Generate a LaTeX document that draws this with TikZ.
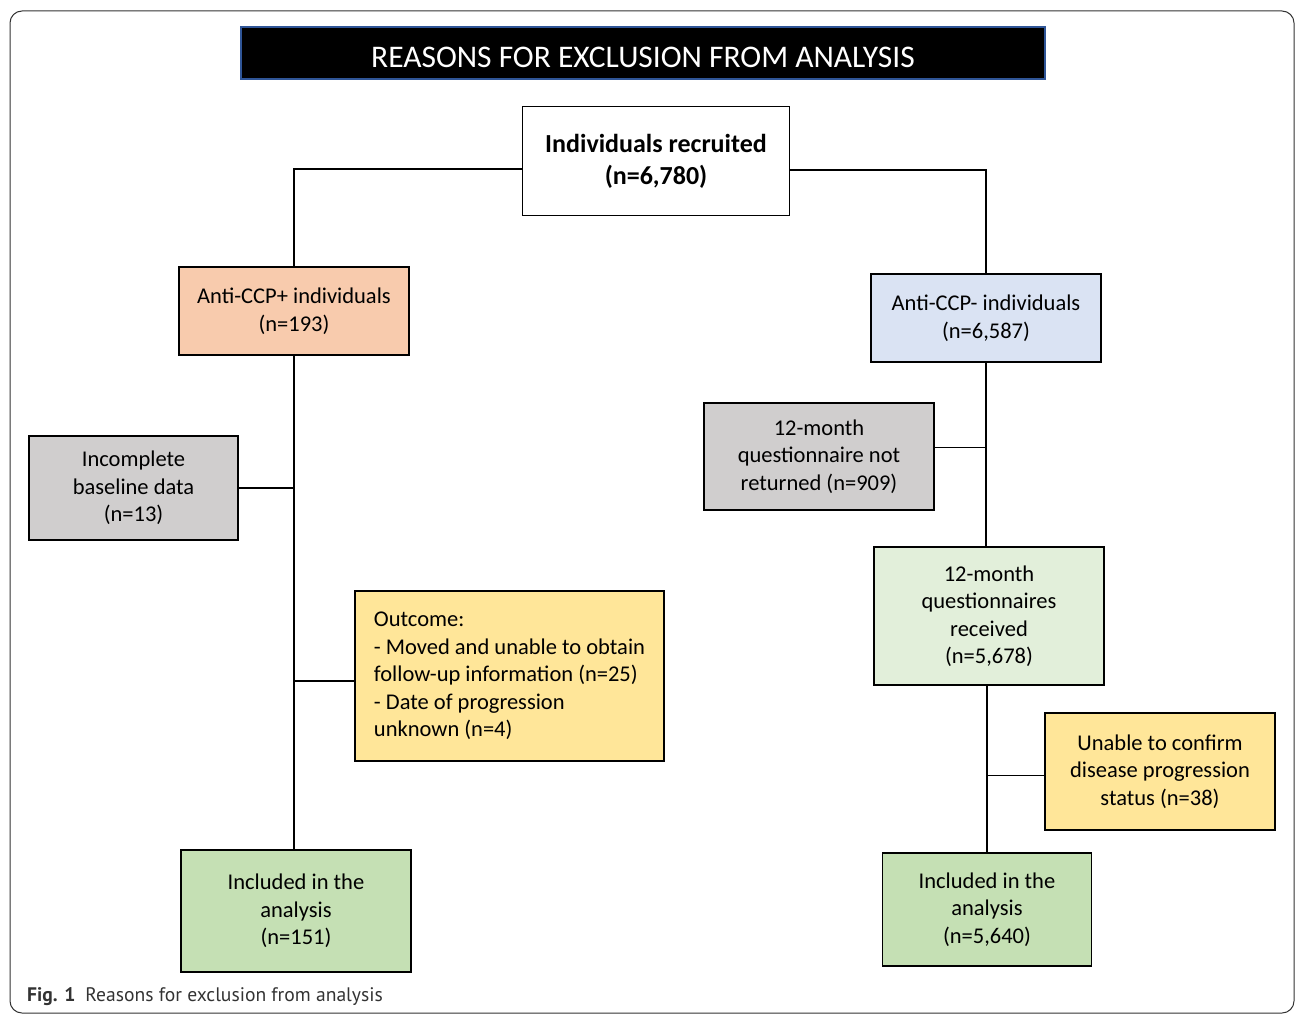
\documentclass[tikz,border=0pt]{standalone}
\usepackage{fontspec}
\setmainfont{Carlito}
\newfontfamily\capfont{PT Sans}
\usetikzlibrary{positioning}

\definecolor{peachfill}{HTML}{F8CBAD}
\definecolor{bluefill}{HTML}{DAE3F3}
\definecolor{grayfill}{HTML}{D0CECE}
\definecolor{yellowfill}{HTML}{FFE699}
\definecolor{palegreen}{HTML}{E2EFDA}
\definecolor{greenfill}{HTML}{C5E0B4}
\definecolor{titleedge}{HTML}{2F5597}

\begin{document}
\begin{tikzpicture}[x=1pt,y=-1pt,
    box/.style={draw=black, line width=1.8pt, align=center, inner sep=0pt,
        font=\fontsize{22.5}{27.5}\selectfont},
    link/.style={line width=1.8pt}]

    % Fix the page size and draw the outer frame
    \useasboundingbox (0,0) rectangle (1295,1014);
    \draw[line width=1pt, rounded corners=12pt, black!80] (10,11) rectangle (1294,1013);

    % Draw the title bar
    \node[fill=black, draw=titleedge, line width=1.5pt, minimum width=804pt, minimum height=52pt,
        text=white, font=\fontsize{31.5}{34}\selectfont, text height=31pt, text depth=2pt] (title) at (643,53)
        {REASONS FOR EXCLUSION FROM ANALYSIS};

    % Top box
    \node[box, fill=white, minimum width=267pt, minimum height=109pt,
        font=\bfseries\fontsize{26}{32}\selectfont] (recruited) at (656,161)
        {Individuals recruited\\(n=6,780)};

    % Left branch
    \node[box, fill=peachfill, minimum width=230pt, minimum height=88pt] (ccppos) at (294,311)
        {Anti-CCP+ individuals\\(n=193)};
    \node[box, fill=grayfill, minimum width=209pt, minimum height=104pt] (baseline) at (133.5,488)
        {Incomplete\\baseline data\\(n=13)};
    \node[box, fill=yellowfill, minimum width=309pt, minimum height=170pt, align=left] (outcome) at (509.5,676)
        {Outcome:\\- Moved and unable to obtain\\follow-up information (n=25)\\- Date of progression\\unknown (n=4)};
    \node[box, fill=greenfill, minimum width=230pt, minimum height=122pt] (inclpos) at (296,911)
        {Included in the\\analysis\\(n=151)};

    % Right branch
    \node[box, fill=bluefill, minimum width=230pt, minimum height=88pt] (ccpneg) at (986,318)
        {Anti-CCP- individuals\\(n=6,587)};
    \node[box, fill=grayfill, minimum width=230pt, minimum height=107pt] (notreturned) at (819,456.5)
        {12-month\\questionnaire not\\returned (n=909)};
    \node[box, fill=palegreen, minimum width=230pt, minimum height=138pt] (received) at (989,616)
        {12-month\\questionnaires\\received\\(n=5,678)};
    \node[box, fill=yellowfill, minimum width=230pt, minimum height=117pt] (unable) at (1160,771.5)
        {Unable to confirm\\disease progression\\status (n=38)};
    \node[box, fill=greenfill, minimum width=209pt, minimum height=113pt] (inclneg) at (987,909.5)
        {Included in the\\analysis\\(n=5,640)};

    % Where the side branches meet their boxes
    \coordinate (outjoin) at ([yshift=-5pt]outcome.west);
    \coordinate (notjoin) at ([yshift=9pt]notreturned.east);
    \coordinate (unjoin) at ([yshift=-4pt]unable.west);

    % Connectors from the top box
    \draw[link] (recruited.west |- 0,169) -| (ccppos.north);
    \draw[link] (recruited.east |- 0,170) -| (ccpneg.north);

    % Left trunk and side boxes
    \draw[link] (ccppos.south) -- (ccppos.south |- inclpos.north);
    \draw[link] (ccppos.south |- baseline.east) -- (baseline.east);
    \draw[link] (ccppos.south |- outjoin) -- (outjoin);

    % Right trunk and side boxes
    \draw[link] (ccpneg.south) -- (ccpneg.south |- received.north);
    \draw[link] (ccpneg.south |- notjoin) -- (notjoin);
    \draw[link] (inclneg.north |- received.south) -- (inclneg.north);
    \draw[link] (inclneg.north |- unjoin) -- (unjoin);

    % Caption
    \node[anchor=base west, inner sep=0pt, text=black!80, font=\capfont\fontsize{19.6}{22}\selectfont]
        (caption) at (27,1001) {\textbf{Fig. 1}\hspace{10pt}Reasons for exclusion from analysis};
\end{tikzpicture}
\end{document}
